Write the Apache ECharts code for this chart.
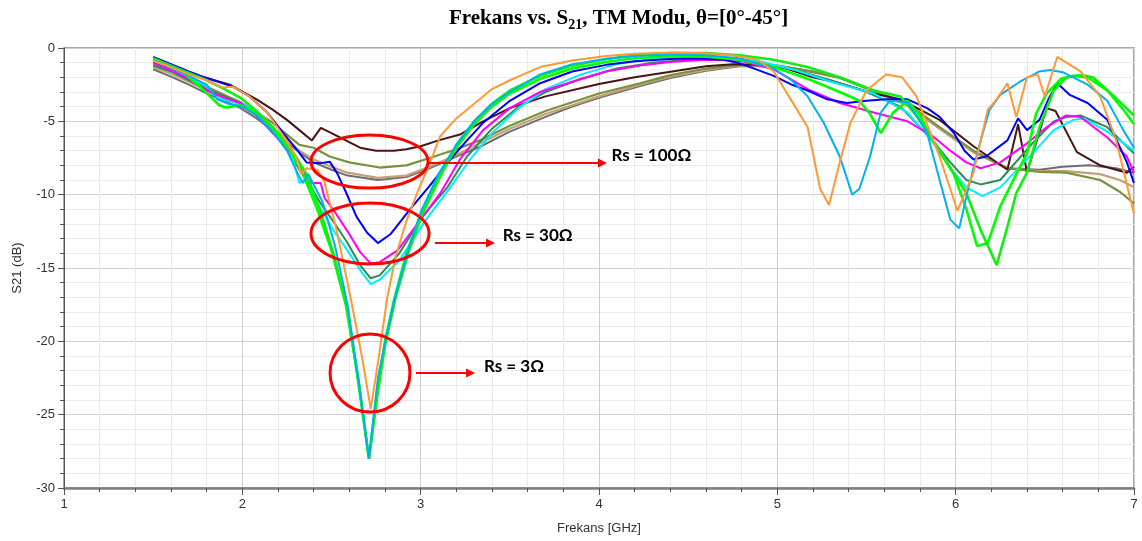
<!DOCTYPE html>
<html>
<head>
<meta charset="utf-8">
<script src="https://cdn.jsdelivr.net/npm/echarts@6/dist/echarts.min.js"></script>
<style>
html,body{margin:0;padding:0;background:#fff;}
#chart{width:1142px;height:541px;}
</style>
</head>
<body>
<div id="chart"></div>
<script>
// ---- Data (frequency GHz, S21 dB) ----
const orange = [[1.5,-0.85],[1.6,-1.3],[1.7,-1.8],[1.8,-2.2],[1.89,-2.7],[1.95,-2.65],[2.04,-3.3],[2.14,-4.4],[2.23,-6.0],[2.3,-7.4],[2.33,-8.6],[2.36,-8.2],[2.42,-8.3],[2.46,-9.1],[2.53,-12.5],[2.61,-17.2],[2.67,-21.0],[2.72,-24.6],[2.76,-21.5],[2.81,-17.2],[2.86,-14.2],[2.92,-11.8],[2.98,-9.9],[3.05,-7.9],[3.11,-6.0],[3.2,-4.8],[3.29,-3.9],[3.4,-2.8],[3.5,-2.2],[3.67,-1.3],[3.85,-0.85],[4.04,-0.55],[4.2,-0.4],[4.41,-0.3],[4.6,-0.35],[4.75,-0.5],[4.89,-0.8],[4.98,-1.6],[5.07,-3.4],[5.17,-5.4],[5.24,-9.6],[5.29,-10.7],[5.35,-7.8],[5.41,-5.1],[5.5,-2.9],[5.61,-1.8],[5.7,-2.0],[5.78,-3.3],[5.91,-7.4],[6.01,-11.1],[6.1,-8.5],[6.18,-4.2],[6.23,-3.5],[6.29,-2.4],[6.34,-4.7],[6.4,-2.0],[6.46,-1.8],[6.5,-3.3],[6.57,-0.6],[6.7,-1.6],[6.81,-3.3],[6.9,-6.3],[7.0,-11.3]];
const skyblue = [[1.5,-0.8],[1.6,-1.35],[1.7,-1.9],[1.8,-2.5],[1.86,-3.5],[1.92,-3.8],[2.0,-4.0],[2.08,-4.6],[2.17,-5.7],[2.25,-7.0],[2.32,-8.8],[2.34,-9.2],[2.37,-8.6],[2.45,-10.5],[2.52,-13.5],[2.59,-17.5],[2.65,-22.5],[2.71,-28.0],[2.76,-22.5],[2.81,-19.5],[2.86,-16.8],[2.93,-13.8],[3.0,-11.2],[3.1,-8.6],[3.2,-6.6],[3.3,-5.0],[3.4,-3.8],[3.5,-3.0],[3.67,-1.8],[3.85,-1.1],[4.04,-0.75],[4.2,-0.55],[4.41,-0.45],[4.6,-0.5],[4.79,-0.7],[4.98,-1.4],[5.08,-2.2],[5.17,-3.3],[5.26,-5.1],[5.35,-7.4],[5.42,-10.0],[5.46,-9.6],[5.52,-7.4],[5.58,-4.4],[5.63,-3.6],[5.73,-3.7],[5.84,-5.8],[5.91,-9.0],[5.97,-11.7],[6.02,-12.3],[6.07,-9.6],[6.14,-6.3],[6.19,-4.2],[6.25,-3.2],[6.36,-2.3],[6.47,-1.6],[6.53,-1.5],[6.6,-1.65],[6.74,-2.5],[6.85,-3.6],[6.94,-5.6],[7.0,-6.8]];
const green1 = [[1.5,-0.8],[1.6,-1.3],[1.67,-1.7],[1.75,-2.5],[1.82,-3.3],[1.87,-3.9],[1.91,-4.05],[1.99,-3.9],[2.08,-4.4],[2.17,-5.5],[2.27,-7.0],[2.34,-8.6],[2.42,-11.0],[2.5,-13.8],[2.58,-17.5],[2.65,-22.5],[2.71,-28.0],[2.76,-23.0],[2.8,-20.0],[2.85,-17.2],[2.92,-14.0],[3.0,-11.4],[3.1,-8.8],[3.2,-6.8],[3.3,-5.2],[3.4,-4.0],[3.5,-3.1],[3.67,-2.1],[3.85,-1.4],[4.04,-0.95],[4.2,-0.7],[4.41,-0.55],[4.6,-0.6],[4.79,-0.8],[4.98,-1.3],[5.17,-2.1],[5.35,-3.0],[5.46,-3.6],[5.52,-4.5],[5.58,-5.8],[5.65,-4.4],[5.73,-3.6],[5.8,-4.6],[5.87,-6.3],[5.99,-8.6],[6.06,-11.0],[6.12,-13.5],[6.18,-13.3],[6.25,-10.8],[6.34,-8.6],[6.4,-7.2],[6.45,-4.5],[6.51,-3.1],[6.59,-2.1],[6.66,-1.9],[6.74,-2.0],[6.85,-2.9],[6.94,-4.2],[7.0,-5.2]];
const green2 = [[1.5,-0.7],[1.6,-1.2],[1.7,-1.7],[1.8,-2.2],[1.9,-2.8],[1.99,-3.4],[2.08,-4.3],[2.17,-5.4],[2.28,-7.0],[2.36,-8.6],[2.44,-11.2],[2.51,-14.0],[2.59,-17.8],[2.65,-22.8],[2.71,-28.0],[2.76,-23.5],[2.8,-20.3],[2.86,-17.0],[2.93,-14.0],[3.0,-11.6],[3.1,-9.0],[3.2,-6.6],[3.3,-5.0],[3.4,-3.8],[3.5,-2.9],[3.67,-1.9],[3.85,-1.2],[4.04,-0.75],[4.2,-0.5],[4.41,-0.35],[4.6,-0.35],[4.79,-0.5],[4.98,-0.8],[5.17,-1.3],[5.35,-2.0],[5.54,-2.9],[5.69,-3.3],[5.8,-4.9],[5.91,-7.0],[6.06,-9.9],[6.14,-12.4],[6.23,-14.8],[6.29,-12.2],[6.34,-9.9],[6.4,-8.5],[6.47,-5.4],[6.55,-2.9],[6.62,-2.0],[6.7,-1.85],[6.77,-2.0],[6.88,-3.2],[7.0,-4.6]];
const blue = [[1.5,-0.6],[1.61,-1.15],[1.7,-1.6],[1.8,-2.05],[1.95,-2.65],[2.04,-3.3],[2.14,-4.4],[2.23,-5.8],[2.31,-7.0],[2.36,-7.8],[2.44,-7.85],[2.49,-7.75],[2.53,-8.5],[2.58,-9.8],[2.64,-11.5],[2.7,-12.6],[2.76,-13.3],[2.83,-12.7],[2.94,-11.0],[3.05,-9.4],[3.18,-7.4],[3.26,-6.3],[3.35,-5.1],[3.5,-3.6],[3.67,-2.4],[3.85,-1.6],[4.04,-1.15],[4.2,-0.9],[4.4,-0.75],[4.55,-0.7],[4.7,-0.8],[4.79,-1.05],[4.98,-1.9],[5.08,-2.5],[5.17,-2.9],[5.28,-3.5],[5.39,-3.75],[5.5,-3.6],[5.61,-3.5],[5.73,-3.5],[5.84,-4.1],[5.91,-4.7],[5.99,-5.8],[6.05,-7.0],[6.1,-7.6],[6.17,-7.4],[6.29,-6.3],[6.35,-4.8],[6.4,-5.6],[6.47,-4.9],[6.52,-3.5],[6.57,-2.4],[6.64,-3.2],[6.74,-3.75],[6.85,-4.9],[6.96,-7.8],[7.0,-9.2]];
const magenta = [[1.5,-1.0],[1.6,-1.5],[1.7,-2.1],[1.8,-2.9],[1.9,-3.4],[1.99,-3.75],[2.08,-4.6],[2.17,-5.8],[2.25,-6.8],[2.31,-7.6],[2.36,-8.8],[2.39,-9.2],[2.44,-9.2],[2.46,-10.2],[2.52,-11.2],[2.59,-12.5],[2.66,-13.9],[2.72,-14.7],[2.77,-14.6],[2.87,-13.8],[3.0,-11.7],[3.11,-9.9],[3.22,-7.6],[3.35,-5.6],[3.5,-4.1],[3.67,-3.0],[3.85,-2.3],[4.04,-1.6],[4.23,-1.2],[4.4,-0.95],[4.6,-0.8],[4.79,-0.85],[4.98,-1.45],[5.17,-2.8],[5.35,-3.75],[5.54,-4.4],[5.73,-5.0],[5.87,-6.0],[5.97,-7.0],[6.06,-7.8],[6.14,-8.2],[6.25,-7.8],[6.4,-6.5],[6.51,-5.4],[6.62,-4.6],[6.7,-4.7],[6.85,-6.1],[6.96,-7.4],[7.0,-8.5]];
const darkgreen = [[1.5,-1.2],[1.6,-1.6],[1.7,-2.2],[1.8,-2.8],[1.9,-3.3],[2.0,-3.8],[2.1,-4.6],[2.2,-5.9],[2.32,-8.3],[2.38,-9.4],[2.44,-10.6],[2.52,-12.0],[2.59,-13.3],[2.66,-14.8],[2.72,-15.7],[2.77,-15.5],[2.88,-14.0],[3.01,-11.5],[3.15,-9.5],[3.26,-7.4],[3.4,-5.5],[3.55,-4.0],[3.7,-3.0],[3.9,-2.1],[4.1,-1.4],[4.3,-1.0],[4.5,-0.8],[4.7,-0.8],[4.9,-1.0],[5.1,-1.5],[5.3,-2.2],[5.5,-3.0],[5.69,-4.0],[5.87,-6.3],[5.97,-7.8],[6.06,-9.0],[6.14,-9.3],[6.25,-9.0],[6.43,-6.5],[6.55,-5.0],[6.62,-4.7],[6.7,-4.6],[6.85,-5.4],[7.0,-7.2]];
const cyan = [[1.5,-0.9],[1.6,-1.4],[1.7,-2.0],[1.8,-2.6],[1.86,-3.4],[1.92,-3.6],[2.0,-3.8],[2.1,-4.5],[2.2,-5.8],[2.28,-7.4],[2.32,-9.2],[2.35,-9.0],[2.44,-11.0],[2.52,-12.6],[2.6,-14.0],[2.67,-15.3],[2.72,-16.1],[2.77,-15.8],[2.88,-14.5],[3.03,-11.7],[3.16,-9.6],[3.29,-7.4],[3.4,-5.8],[3.55,-4.1],[3.7,-2.8],[3.9,-1.8],[4.1,-1.1],[4.3,-0.75],[4.5,-0.6],[4.7,-0.65],[4.9,-0.9],[5.1,-1.5],[5.3,-2.3],[5.54,-3.1],[5.73,-4.4],[5.87,-6.4],[5.97,-8.2],[6.06,-9.5],[6.15,-10.1],[6.25,-9.5],[6.43,-7.2],[6.55,-5.6],[6.66,-4.9],[6.72,-4.8],[6.85,-5.7],[7.0,-7.0]];
const brown = [[1.5,-0.9],[1.6,-1.35],[1.7,-1.75],[1.8,-2.05],[1.93,-2.5],[1.99,-2.9],[2.08,-3.5],[2.17,-4.2],[2.25,-4.9],[2.32,-5.6],[2.39,-6.3],[2.44,-5.45],[2.5,-5.8],[2.58,-6.3],[2.66,-6.8],[2.75,-7.0],[2.85,-7.0],[2.92,-6.9],[3.0,-6.7],[3.1,-6.3],[3.22,-5.9],[3.35,-5.0],[3.5,-4.1],[3.7,-3.3],[4.0,-2.45],[4.2,-2.0],[4.41,-1.6],[4.6,-1.25],[4.75,-1.1],[4.9,-1.15],[5.05,-1.4],[5.2,-2.0],[5.35,-2.4],[5.54,-3.1],[5.69,-3.5],[5.8,-4.2],[5.91,-4.9],[6.1,-6.7],[6.29,-8.3],[6.35,-5.2],[6.4,-8.5],[6.51,-4.1],[6.56,-4.3],[6.68,-7.1],[6.81,-8.0],[6.96,-8.5],[7.0,-8.1]];
const olive = [[1.5,-1.1],[1.6,-1.55],[1.7,-2.1],[1.8,-2.65],[1.9,-3.2],[1.99,-3.7],[2.08,-4.4],[2.17,-5.1],[2.25,-5.9],[2.32,-6.6],[2.4,-6.8],[2.49,-7.4],[2.6,-7.8],[2.77,-8.15],[2.92,-8.0],[3.05,-7.5],[3.2,-6.9],[3.33,-6.3],[3.5,-5.3],[3.7,-4.3],[3.85,-3.7],[4.0,-3.1],[4.23,-2.4],[4.4,-1.85],[4.6,-1.4],[4.79,-1.15],[5.0,-1.2],[5.2,-1.6],[5.35,-2.0],[5.54,-2.9],[5.73,-3.8],[5.91,-5.4],[6.1,-7.0],[6.29,-8.2],[6.47,-8.45],[6.62,-8.5],[6.81,-9.0],[6.92,-9.8],[7.0,-10.6]];
const tan = [[1.5,-1.3],[1.6,-1.75],[1.7,-2.3],[1.8,-2.9],[1.9,-3.4],[1.99,-3.9],[2.08,-4.6],[2.17,-5.4],[2.25,-6.3],[2.32,-7.0],[2.4,-7.6],[2.5,-8.1],[2.59,-8.5],[2.76,-8.85],[2.92,-8.7],[3.05,-8.1],[3.2,-7.3],[3.33,-6.5],[3.5,-5.5],[3.7,-4.5],[3.85,-3.9],[4.0,-3.3],[4.23,-2.5],[4.4,-1.95],[4.6,-1.5],[4.79,-1.2],[5.0,-1.2],[5.2,-1.6],[5.35,-2.0],[5.54,-2.9],[5.73,-3.9],[5.91,-5.5],[6.1,-7.1],[6.29,-8.2],[6.47,-8.4],[6.62,-8.4],[6.81,-8.6],[6.92,-9.0],[7.0,-9.5]];
const gray = [[1.5,-1.45],[1.6,-1.95],[1.7,-2.5],[1.8,-3.1],[1.9,-3.6],[1.99,-4.1],[2.08,-4.8],[2.17,-5.6],[2.21,-6.1],[2.32,-7.1],[2.4,-7.8],[2.5,-8.3],[2.59,-8.7],[2.76,-9.0],[2.92,-8.8],[3.05,-8.2],[3.2,-7.4],[3.33,-6.75],[3.5,-5.7],[3.7,-4.7],[3.85,-4.0],[4.0,-3.4],[4.23,-2.6],[4.4,-2.05],[4.6,-1.55],[4.79,-1.25],[5.0,-1.25],[5.2,-1.65],[5.35,-2.05],[5.54,-2.95],[5.73,-3.9],[5.91,-5.5],[6.1,-7.1],[6.29,-8.2],[6.47,-8.3],[6.6,-8.1],[6.75,-8.0],[6.9,-8.2],[7.0,-8.5]];

const annotationLabels = ['Rs = 100Ω', 'Rs = 30Ω', 'Rs = 3Ω'];

// ---- Styling / drawing ----
const seriesDefs = [
  {name:'gray', data:gray, color:'#6e6e6e', w:2},
  {name:'tan', data:tan, color:'#c4a07a', w:2.2},
  {name:'olive', data:olive, color:'#77933c', w:2.2},
  {name:'brown', data:brown, color:'#4a1414', w:2},
  {name:'darkgreen', data:darkgreen, color:'#2e8b57', w:2},
  {name:'cyan', data:cyan, color:'#00eeff', w:2},
  {name:'magenta', data:magenta, color:'#ff00ff', w:2},
  {name:'blue', data:blue, color:'#0000ff', w:2},
  {name:'green1', data:green1, color:'#00ff00', w:2.6},
  {name:'green2', data:green2, color:'#11ee11', w:2.6},
  {name:'skyblue', data:skyblue, color:'#00b0f0', w:2},
  {name:'orange', data:orange, color:'#ff9933', w:2}
];

const chart = echarts.init(document.getElementById('chart'), null, {renderer:'canvas'});
const axisFont = 'Liberation Sans, Arial, sans-serif';

const option = {
  animation:false,
  backgroundColor:'#ffffff',
  title:{
    text:'{a|Frekans vs. S}{b|21}{a|, TM Modu, θ=[0°-45°]}',
    left:444, top:1,
    textStyle:{
      rich:{
        a:{fontFamily:'Liberation Serif, Times New Roman, serif', fontWeight:'bold', fontSize:21, color:'#000', lineHeight:26},
        b:{fontFamily:'Liberation Serif, Times New Roman, serif', fontWeight:'bold', fontSize:14, color:'#000', verticalAlign:'bottom', lineHeight:16, padding:[11,0,0,0]}
      }
    }
  },
  grid:{left:64, right:8, top:48, bottom:53, show:true, borderColor:'#8c8c8c', borderWidth:1.5, backgroundColor:'#ffffff'},
  xAxis:{
    type:'value', min:1, max:7, interval:1,
    name:'Frekans [GHz]', nameLocation:'middle', nameGap:34,
    nameTextStyle:{fontFamily:axisFont, fontSize:13, color:'#333'},
    axisLine:{show:true, onZero:false, lineStyle:{color:'#7f7f7f', width:2.5}},
    axisTick:{show:true, length:7, lineStyle:{color:'#555'}},
    minorTick:{show:true, splitNumber:5, length:4, lineStyle:{color:'#555'}},
    axisLabel:{fontFamily:axisFont, fontSize:13, color:'#333', margin:10},
    splitLine:{show:true, lineStyle:{color:'#cfcfcf', width:1}},
    minorSplitLine:{show:true, lineStyle:{color:'#ebebeb', width:1}}
  },
  yAxis:{
    type:'value', min:-30, max:0, interval:5,
    name:'S21 (dB)', nameLocation:'middle', nameGap:40, nameRotate:90,
    nameTextStyle:{fontFamily:axisFont, fontSize:13, color:'#333'},
    axisLine:{show:true, onZero:false, lineStyle:{color:'#555', width:1}},
    axisTick:{show:true, length:6, lineStyle:{color:'#555'}},
    minorTick:{show:true, splitNumber:5, length:4, lineStyle:{color:'#555'}},
    axisLabel:{fontFamily:axisFont, fontSize:13, color:'#333', margin:9},
    splitLine:{show:true, lineStyle:{color:'#cfcfcf', width:1}},
    minorSplitLine:{show:true, lineStyle:{color:'#ebebeb', width:1}}
  },
  series: seriesDefs.map(s => ({
    name:s.name, type:'line', data:s.data, showSymbol:false, symbol:'none',
    smooth:false, clip:true,
    lineStyle:{color:s.color, width:s.w},
    itemStyle:{color:s.color}
  }))
};
chart.setOption(option);

// ---- Annotations placed in data coordinates ----
const ellipseDefs = [
  {c:[2.713,-7.74], rx:0.328, ry:1.81},
  {c:[2.716,-12.65], rx:0.331, ry:2.08},
  {c:[2.716,-22.16], rx:0.224, ry:2.66}
];
const arrowDefs = [
  {from:[3.041,-7.84], to:[4.045,-7.84], label:[4.07,-7.3]},
  {from:[3.08,-13.3], to:[3.417,-13.3], label:[3.46,-12.8]},
  {from:[2.974,-22.16], to:[3.305,-22.16], label:[3.355,-21.75]}
];
function px(p){ return chart.convertToPixel({gridIndex:0}, p); }
const graphics = [];
ellipseDefs.forEach(e => {
  const c = px(e.c);
  const rxp = px([e.c[0]+e.rx, e.c[1]])[0] - c[0];
  const ryp = c[1] - px([e.c[0], e.c[1]+e.ry])[1];
  graphics.push({type:'ellipse', shape:{cx:c[0], cy:c[1], rx:rxp, ry:ryp}, style:{fill:null, stroke:'#ff0000', lineWidth:3}, z:100});
});
arrowDefs.forEach((a, i) => {
  const p1 = px(a.from), p2 = px(a.to), pl = px(a.label);
  graphics.push({type:'line', shape:{x1:p1[0], y1:p1[1], x2:p2[0]-6, y2:p2[1]}, style:{stroke:'#ff0000', lineWidth:2}, z:100});
  graphics.push({type:'polygon', shape:{points:[[p2[0],p2[1]],[p2[0]-9,p2[1]-4.5],[p2[0]-9,p2[1]+4.5]]}, style:{fill:'#ff0000'}, z:100});
  graphics.push({type:'text', x:pl[0], y:pl[1], style:{text:annotationLabels[i], fontFamily:'Lato, Open Sans, sans-serif', fontWeight:'bold', fontSize:17, fill:'#000', textAlign:'left', textVerticalAlign:'middle'}, z:100});
});
chart.setOption({graphic:graphics});
</script>
</body>
</html>
